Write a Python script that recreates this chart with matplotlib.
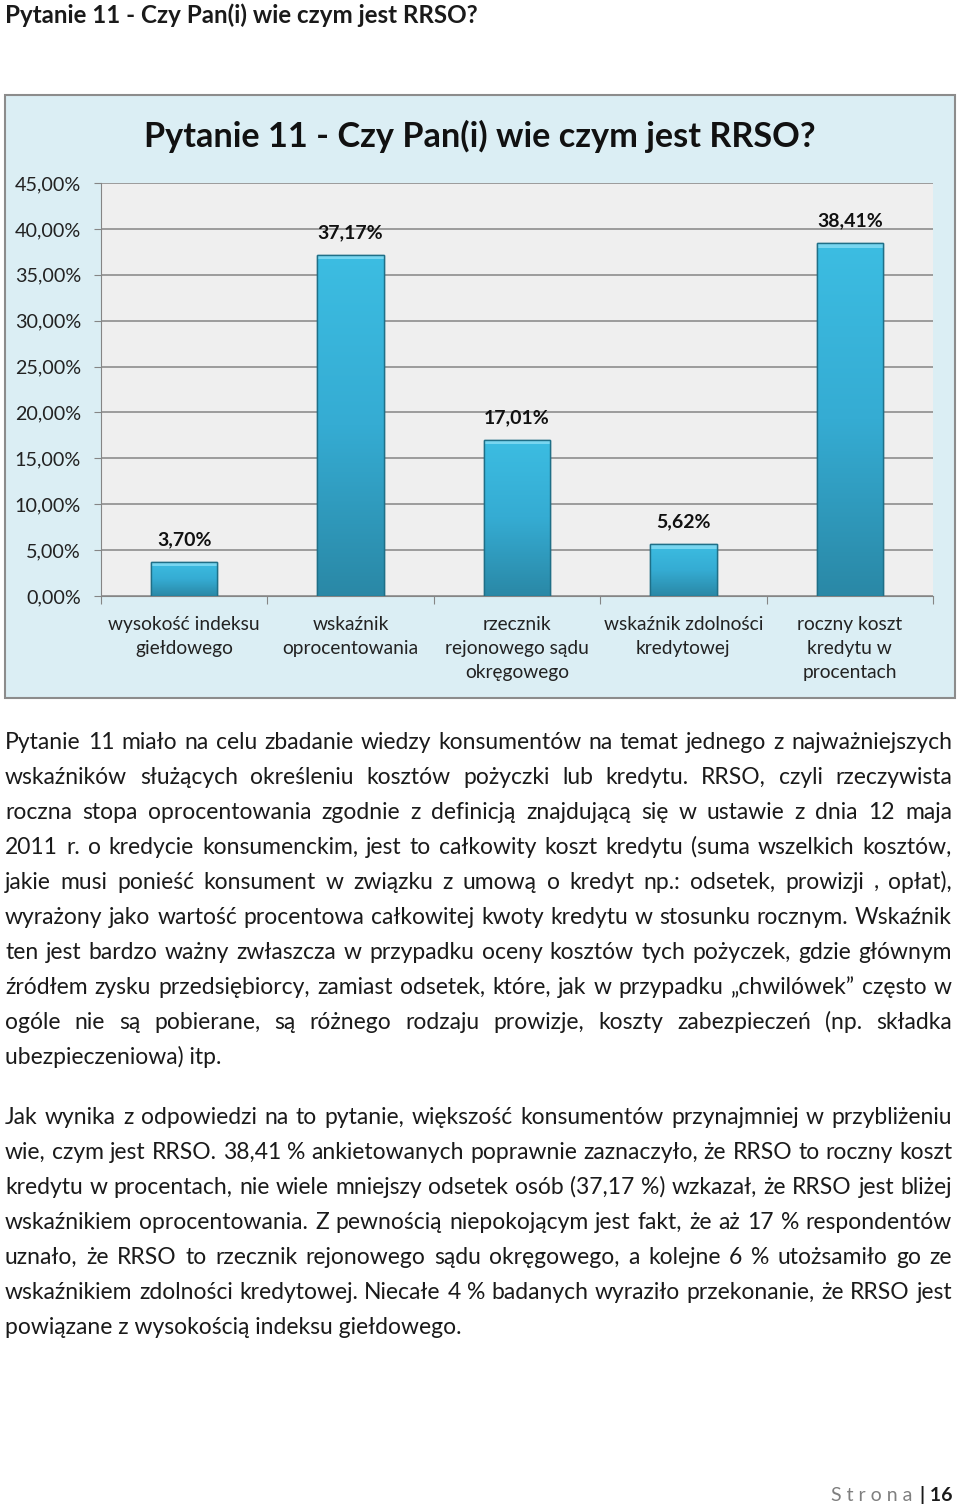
import numpy as np
import matplotlib
matplotlib.use("Agg")
import matplotlib.pyplot as plt
from matplotlib.patches import Rectangle
from matplotlib.transforms import IdentityTransform
from matplotlib.colors import LinearSegmentedColormap

plt.rcParams['font.family'] = ['Lato']

# chart data
title = "Pytanie 11 - Czy Pan(i) wie czym jest RRSO?"
categories = ["wysokość indeksu\ngiełdowego", "wskaźnik\noprocentowania",
              "rzecznik\nrejonowego sądu\nokręgowego", "wskaźnik zdolności\nkredytowej",
              "roczny koszt\nkredytu w\nprocentach"]
values = [3.70, 37.17, 17.01, 5.62, 38.41]
yticks = [0, 5, 10, 15, 20, 25, 30, 35, 40, 45]

# page text, broken into lines as on the page
para1 = [
    "Pytanie 11 miało na celu zbadanie wiedzy konsumentów na temat jednego z najważniejszych",
    "wskaźników służących określeniu kosztów pożyczki lub kredytu. RRSO, czyli rzeczywista",
    "roczna stopa oprocentowania zgodnie z definicją znajdującą się w ustawie z dnia 12 maja",
    "2011 r. o kredycie konsumenckim, jest to całkowity koszt kredytu (suma wszelkich kosztów,",
    "jakie musi ponieść konsument w związku z umową o kredyt np.: odsetek, prowizji , opłat),",
    "wyrażony jako wartość procentowa całkowitej kwoty kredytu w stosunku rocznym. Wskaźnik",
    "ten jest bardzo ważny zwłaszcza w przypadku  oceny kosztów tych pożyczek, gdzie głównym",
    "źródłem zysku przedsiębiorcy, zamiast odsetek, które, jak w przypadku „chwilówek” często w",
    "ogóle nie są pobierane, są różnego rodzaju prowizje, koszty zabezpieczeń (np. składka",
    "ubezpieczeniowa) itp.",
]
para2 = [
    "Jak wynika z odpowiedzi na to pytanie, większość konsumentów przynajmniej w przybliżeniu",
    "wie, czym jest RRSO. 38,41 % ankietowanych poprawnie zaznaczyło, że RRSO to roczny koszt",
    "kredytu w procentach, nie wiele mniejszy odsetek osób (37,17 %) wzkazał, że RRSO jest bliżej",
    "wskaźnikiem oprocentowania. Z pewnością niepokojącym jest fakt, że aż 17 % respondentów",
    "uznało, że RRSO to rzecznik rejonowego sądu okręgowego, a kolejne 6 % utożsamiło go ze",
    "wskaźnikiem zdolności kredytowej. Niecałe 4 % badanych wyraziło przekonanie, że RRSO jest",
    "powiązane z wysokością indeksu giełdowego.",
]

W, H = 960, 1506
TXT = '#1a1a1a'


def py(y):
    # page pixel (from top) -> display pixel (from bottom)
    return H - y


def draw_paragraph(fig, lines, y0, step, x0=5, x1=952, size=16.5):
    renderer = fig.canvas.get_renderer()
    for i, line in enumerate(lines):
        yb = py(y0 + i * step)
        if i == len(lines) - 1:
            fig.text(x0, yb, line, transform=IdentityTransform(), fontsize=size,
                     color=TXT, va='baseline', ha='left')
            continue
        words = line.split()
        texts = [fig.text(0, yb, w, transform=IdentityTransform(), fontsize=size,
                          color=TXT, va='baseline', ha='left') for w in words]
        widths = [t.get_window_extent(renderer).width for t in texts]
        gap = (x1 - x0 - sum(widths)) / (len(words) - 1)
        x = x0
        for t, w in zip(texts, widths):
            t.set_x(x)
            x += w + gap


def main():
    fig = plt.figure(figsize=(W / 100, H / 100), dpi=100)

    # page heading
    fig.text(5, py(23), title, transform=IdentityTransform(), fontsize=17.4,
             fontweight='bold', color=TXT, va='baseline', ha='left')

    # chart frame
    frame = Rectangle((5 / W, 1 - 698 / H), 950 / W, 603 / H, transform=fig.transFigure,
                      facecolor='#dbeef4', edgecolor='#8c8c8c', linewidth=1.5, zorder=-10)
    fig.patches.append(frame)
    fig.text(480 / W, 1 - 147 / H, title, fontsize=24.7, fontweight='bold',
             color='#111111', ha='center', va='baseline')

    ax = fig.add_axes([101 / W, 1 - 596 / H, 832 / W, 413 / H])
    ax.set_facecolor('#efefef')
    x = np.arange(len(values))
    bars = ax.bar(x, values, width=0.4, color='#36aed4', edgecolor='#1f6f87',
                  linewidth=1.0, zorder=3)

    cmap = LinearSegmentedColormap.from_list('bar', ['#2a88a6', '#35acd3', '#3cbde2'])
    grad = np.linspace(0, 1, 256).reshape(-1, 1)
    for b in bars:
        bx, bw, bh = b.get_x(), b.get_width(), b.get_height()
        im = ax.imshow(grad, cmap=cmap, origin='lower', aspect='auto',
                       extent=(bx, bx + bw, 0, bh), zorder=3.5)
        im.set_clip_path(b)
        # light bevel at the top of the bar
        ax.fill_between([bx, bx + bw], bh - 0.45, bh, color='#78d6f0', zorder=3.6, lw=0)
        ax.add_patch(Rectangle((bx, 0), bw, bh, fill=False, edgecolor='#1f6f87',
                               lw=1.0, zorder=3.7))

    for xi, v in zip(x, values):
        ax.text(xi, v + 1.5, f"{v:.2f}%".replace('.', ','), ha='center', va='bottom',
                fontsize=14, fontweight='bold', color='#111111', zorder=5)

    ax.set_xlim(-0.5, len(values) - 0.5)
    ax.set_ylim(0, 45)
    ax.set_yticks(yticks)
    ax.set_yticklabels([f"{t:.2f}%".replace('.', ',') for t in yticks], fontsize=14.2,
                       color='#222222')
    ax.yaxis.grid(True, color='#858585', linewidth=1.1, zorder=0)
    ax.set_axisbelow(True)
    ax.tick_params(axis='y', length=5, color='#858585', pad=9.4)

    ax.set_xticks(np.arange(len(values) + 1) - 0.5)
    ax.set_xticklabels([])
    ax.tick_params(axis='x', length=5.8, color='#858585', direction='out')
    for xi, c in zip(x, categories):
        ax.text(xi, -2.2, c, ha='center', va='top', fontsize=13.8, color='#222222',
                linespacing=1.5)

    for s in ['top', 'right']:
        ax.spines[s].set_visible(False)
    for s in ['left', 'bottom']:
        ax.spines[s].set_color('#858585')

    draw_paragraph(fig, para1, 749, 35)
    draw_paragraph(fig, para2, 1124, 35)

    # footer
    fig.text(952, py(1501), "| 16", transform=IdentityTransform(), fontsize=14,
             fontweight='bold', color=TXT, ha='right', va='baseline')
    fig.text(912, py(1501), "S t r o n a", transform=IdentityTransform(), fontsize=14,
             color='#7f7f7f', ha='right', va='baseline')

    fig.savefig("out.png", dpi=100, facecolor='white')


if __name__ == "__main__":
    main()
